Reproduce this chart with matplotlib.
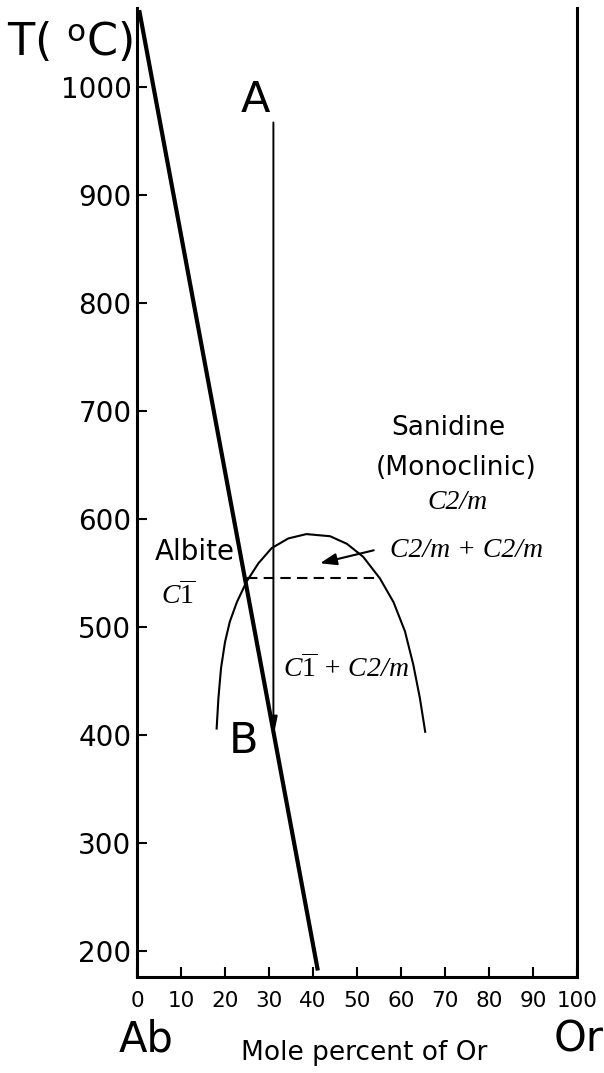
import matplotlib
matplotlib.use('Agg')
import matplotlib.pyplot as plt

plt.rcParams['font.family'] = ['DejaVu Sans']
plt.rcParams['mathtext.fontset'] = 'custom'
plt.rcParams['mathtext.it'] = 'Liberation Serif:italic'
plt.rcParams['mathtext.rm'] = 'Liberation Serif'
plt.rcParams['mathtext.bf'] = 'Liberation Serif:bold'

# ---- data ----
x_ticks = [0, 10, 20, 30, 40, 50, 60, 70, 80, 90, 100]
T_ticks = [200, 300, 400, 500, 600, 700, 800, 900, 1000]

# thick composition line
ab_line_x = [0.5, 41.1]
ab_line_T = [1071, 182]

# cooling path A -> B
path_x = [31.0, 31.0]
path_T = [967, 398]

# solvus curve
solvus_x = [18.1, 18.5, 19.1, 20.0, 21.1, 22.7, 24.9, 27.6, 30.6, 34.4, 38.5,
            43.9, 47.7, 51.4, 55.2, 58.3, 60.9, 62.8, 64.3, 65.5]
solvus_T = [406, 434, 462, 486, 505, 523, 542, 559, 573, 582, 586,
            584, 577, 565, 545, 523, 496, 465, 434, 403]

# dashed tie line
tie_x = [24.9, 55.2]
tie_T = [545, 545]

# label arrow (tail -> tip)
arrow_tail = (53.8, 571)
arrow_tip = (41.6, 559)

W, H = 604, 1073
fig = plt.figure(figsize=(W / 100, H / 100), dpi=100)
ax = fig.add_axes([137 / W, 96 / H, 440 / W, 969 / H])
ax.set_xlim(0, 100)
ax.set_ylim(176, 1073)

ax.spines['top'].set_visible(False)
for s in ['left', 'right', 'bottom']:
    ax.spines[s].set_linewidth(2.2)
ax.set_xticks(x_ticks)
ax.set_yticks(T_ticks)
ax.tick_params(axis='x', direction='in', length=7, width=1.5, labelsize=15.5, pad=10)
ax.tick_params(axis='y', direction='in', length=7, width=1.5, labelsize=20, pad=4)

ax.plot(ab_line_x, ab_line_T, color='k', lw=3.0, solid_capstyle='butt')
ax.annotate('', xy=(path_x[1], path_T[1]), xytext=(path_x[0], path_T[0]),
            arrowprops=dict(arrowstyle='-|>,head_length=0.6,head_width=0.12',
                            lw=1.4, color='k', mutation_scale=20,
                            shrinkA=0, shrinkB=0))
ax.plot(solvus_x, solvus_T, color='k', lw=1.5, solid_joinstyle='round')
ax.plot(tie_x, tie_T, color='k', lw=1.5, dashes=(5, 3))
ax.annotate('', xy=arrow_tip, xytext=arrow_tail,
            arrowprops=dict(arrowstyle='-|>,head_length=0.5,head_width=0.18',
                            lw=1.5, color='k', mutation_scale=20,
                            shrinkA=0, shrinkB=0))

# labels in data coordinates
ax.text(26.8, 977, 'A', fontsize=31, ha='center', va='baseline')
ax.text(24.2, 383, 'B', fontsize=31, ha='center', va='baseline')
ax.text(13.2, 562, 'Albite', fontsize=20, ha='center', va='baseline')
ax.text(9.3, 521, r'$\mathit{C\overline{1}}$', fontsize=20, ha='center', va='baseline')
ax.text(70.7, 678, 'Sanidine', fontsize=19, ha='center', va='baseline')
ax.text(72.6, 641, '(Monoclinic)', fontsize=19, ha='center', va='baseline')
ax.text(72.8, 609, 'C2/m', fontsize=20, ha='center', va='baseline',
        family='Liberation Serif', style='italic')
ax.text(74.9, 565, 'C2/m + C2/m', fontsize=20, ha='center', va='baseline',
        family='Liberation Serif', style='italic')
ax.text(47.4, 454, r'$\mathit{C\overline{1}}$' + ' + C2/m', fontsize=20, ha='center',
        va='baseline', family='Liberation Serif', style='italic')

# labels in figure coordinates
fig.text(70 / W, 1 - 55 / H, r'T( $^{\mathregular{o}}$C)', fontsize=32,
         ha='center', va='baseline')
fig.text(146 / W, 1 - 1052 / H, 'Ab', fontsize=30, ha='center', va='baseline')
fig.text(579 / W, 1 - 1052 / H, 'Or', fontsize=30, ha='center', va='baseline')
fig.text(364 / W, 1 - 1060 / H, 'Mole percent of Or', fontsize=19,
         ha='center', va='baseline')

fig.savefig('out.png', dpi=100)
